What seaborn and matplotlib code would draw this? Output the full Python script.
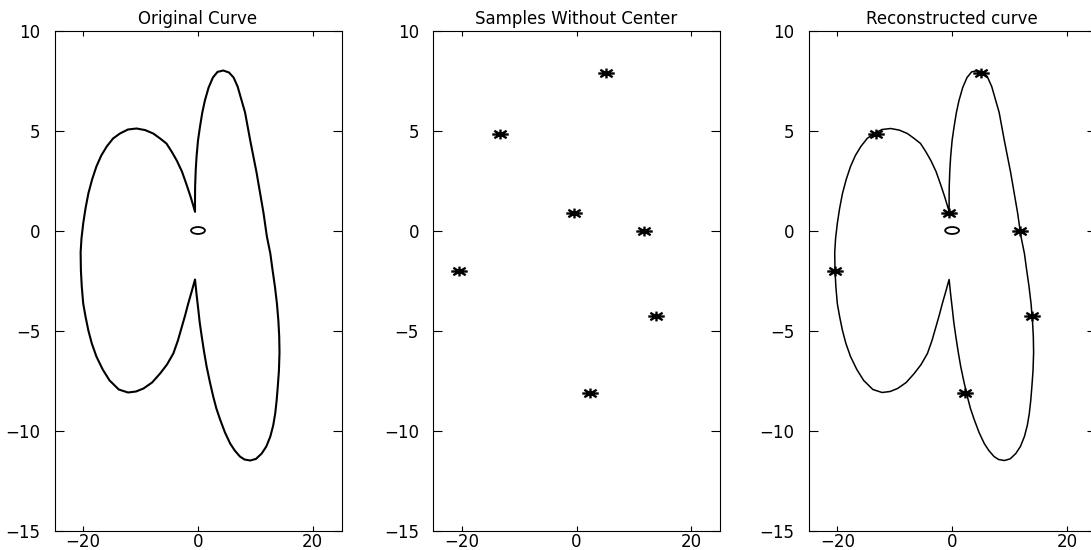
import numpy as np
import matplotlib
matplotlib.use("Agg")
import matplotlib.pyplot as plt
from matplotlib.path import Path
from matplotlib.transforms import Affine2D
import seaborn as sns

# closed curve, going round from the upper cusp
curve_x = [-0.52, -0.52, -0.5, -0.4, -0.25, 0.0, 0.35, 0.75, 1.2, 1.85, 2.6, 3.4, 4.4,
           5.4, 6.2, 6.9, 7.5, 8.2, 8.65, 9.1, 9.65, 10.2, 10.8, 11.4, 12.0, 12.6, 13.0,
           13.4, 13.75, 14.0, 14.15, 14.2, 14.1, 13.9, 13.7, 13.45, 13.1, 12.6, 11.9, 11.1,
           10.1, 9.1, 8.1, 7.3, 6.4, 5.6, 4.7, 3.85, 3.2, 2.65, 2.05, 1.5, 1.05, 0.65,
           0.3, 0.05, -0.25, -0.52,
           -1.1, -1.7, -2.25, -2.8, -3.5, -4.3, -5.4, -6.6, -8.0, -9.5, -10.8, -12.2,
           -13.8, -15.4, -16.6, -17.7, -18.5, -19.1, -19.6, -20.0, -20.25, -20.4, -20.45,
           -20.3, -20.0, -19.6, -19.1, -18.45, -17.7, -16.85, -15.9, -14.8, -13.6, -12.2,
           -10.7, -9.2, -7.8, -6.6, -5.5, -4.6, -3.7, -2.8, -2.0, -1.25, -0.52]
curve_y = [0.95, 1.6, 2.2, 3.0, 3.7, 4.5, 5.2, 5.9, 6.5, 7.15, 7.65, 7.93, 8.0,
           7.9, 7.65, 7.2, 6.6, 5.9, 5.2, 4.5, 3.7, 2.9, 1.9, 0.9, -0.3, -1.15, -2.0,
           -2.8, -3.65, -4.5, -5.3, -6.1, -7.0, -7.8, -8.5, -9.15, -9.75, -10.3, -10.8, -11.15,
           -11.42, -11.5, -11.45, -11.3, -11.0, -10.65, -10.1, -9.45, -8.9, -8.3, -7.55, -6.8, -6.05, -5.3,
           -4.6, -3.95, -3.2, -2.45,
           -3.05, -3.65, -4.25, -4.8, -5.5, -6.15, -6.7, -7.15, -7.6, -7.9, -8.05, -8.1,
           -7.95, -7.5, -6.95, -6.3, -5.65, -5.0, -4.3, -3.65, -2.8, -2.0, -1.1,
           -0.4, 0.35, 1.1, 1.85, 2.55, 3.2, 3.75, 4.2, 4.6, 4.85, 5.05,
           5.1, 5.02, 4.85, 4.6, 4.35, 3.95, 3.5, 2.95, 2.3, 1.65, 0.95]

# sample points
sample_x = [5.1, -13.3, -0.5, 11.8, -20.4, 13.9, 2.3]
sample_y = [7.9, 4.85, 0.86, 0.0, -2.04, -4.25, -8.14]

center_x = [0.0]
center_y = [0.0]

titles = ["Original Curve", "Samples Without Center", "Reconstructed curve"]
x_ticks = [-20, 0, 20]
y_ticks = [-15, -10, -5, 0, 5, 10]

sns.set_theme(style="ticks")
plt.rcParams["font.family"] = ["DejaVu Sans"]
plt.rcParams["axes.edgecolor"] = "black"
plt.rcParams["axes.linewidth"] = 0.8

# MATLAB-like markers, stretched sideways as in the scan
ast_verts = [(-1, 0), (1, 0), (0, -0.6), (0, 0.6),
             (-0.75, -0.45), (0.75, 0.45), (-0.75, 0.45), (0.75, -0.45)]
ast_codes = [Path.MOVETO, Path.LINETO] * 4
asterisk = Path(ast_verts, ast_codes)
ellipse = Path.unit_circle().transformed(Affine2D().scale(1.0, 0.5))

fig = plt.figure(figsize=(10.91, 5.5), dpi=100)
lefts = [54.5, 433.0, 808.6]
axes = [fig.add_axes([l / 1091, 19.5 / 550, 287 / 1091, 500 / 550]) for l in lefts]

for i, ax in enumerate(axes):
    if i in (0, 2):
        sns.lineplot(x=curve_x, y=curve_y, sort=False, estimator=None, color="black",
                     lw=1.5 if i == 0 else 1.1, ax=ax)
        sns.scatterplot(x=center_x, y=center_y, marker=ellipse, s=100, facecolor="none",
                        edgecolor="black", linewidth=1.3, ax=ax)
    if i in (1, 2):
        sns.scatterplot(x=sample_x, y=sample_y, marker=asterisk, s=140, color="black",
                        edgecolor="black", linewidth=1.7, ax=ax, zorder=3)
    ax.set_xlim(-25, 25)
    ax.set_ylim(-15, 10)
    ax.set_xticks(x_ticks)
    ax.set_yticks(y_ticks)
    ax.tick_params(axis="x", direction="in", top=True, length=3.3, width=0.8,
                   pad=2, labelsize=12, colors="black")
    ax.tick_params(axis="y", direction="in", right=True, length=6.5, width=0.8,
                   pad=10, labelsize=12, colors="black")
    ax.set_title(titles[i], fontsize=12, pad=5, color="black")
    ax.set_xlabel("")
    ax.set_ylabel("")

fig.savefig("out.png", dpi=100)
